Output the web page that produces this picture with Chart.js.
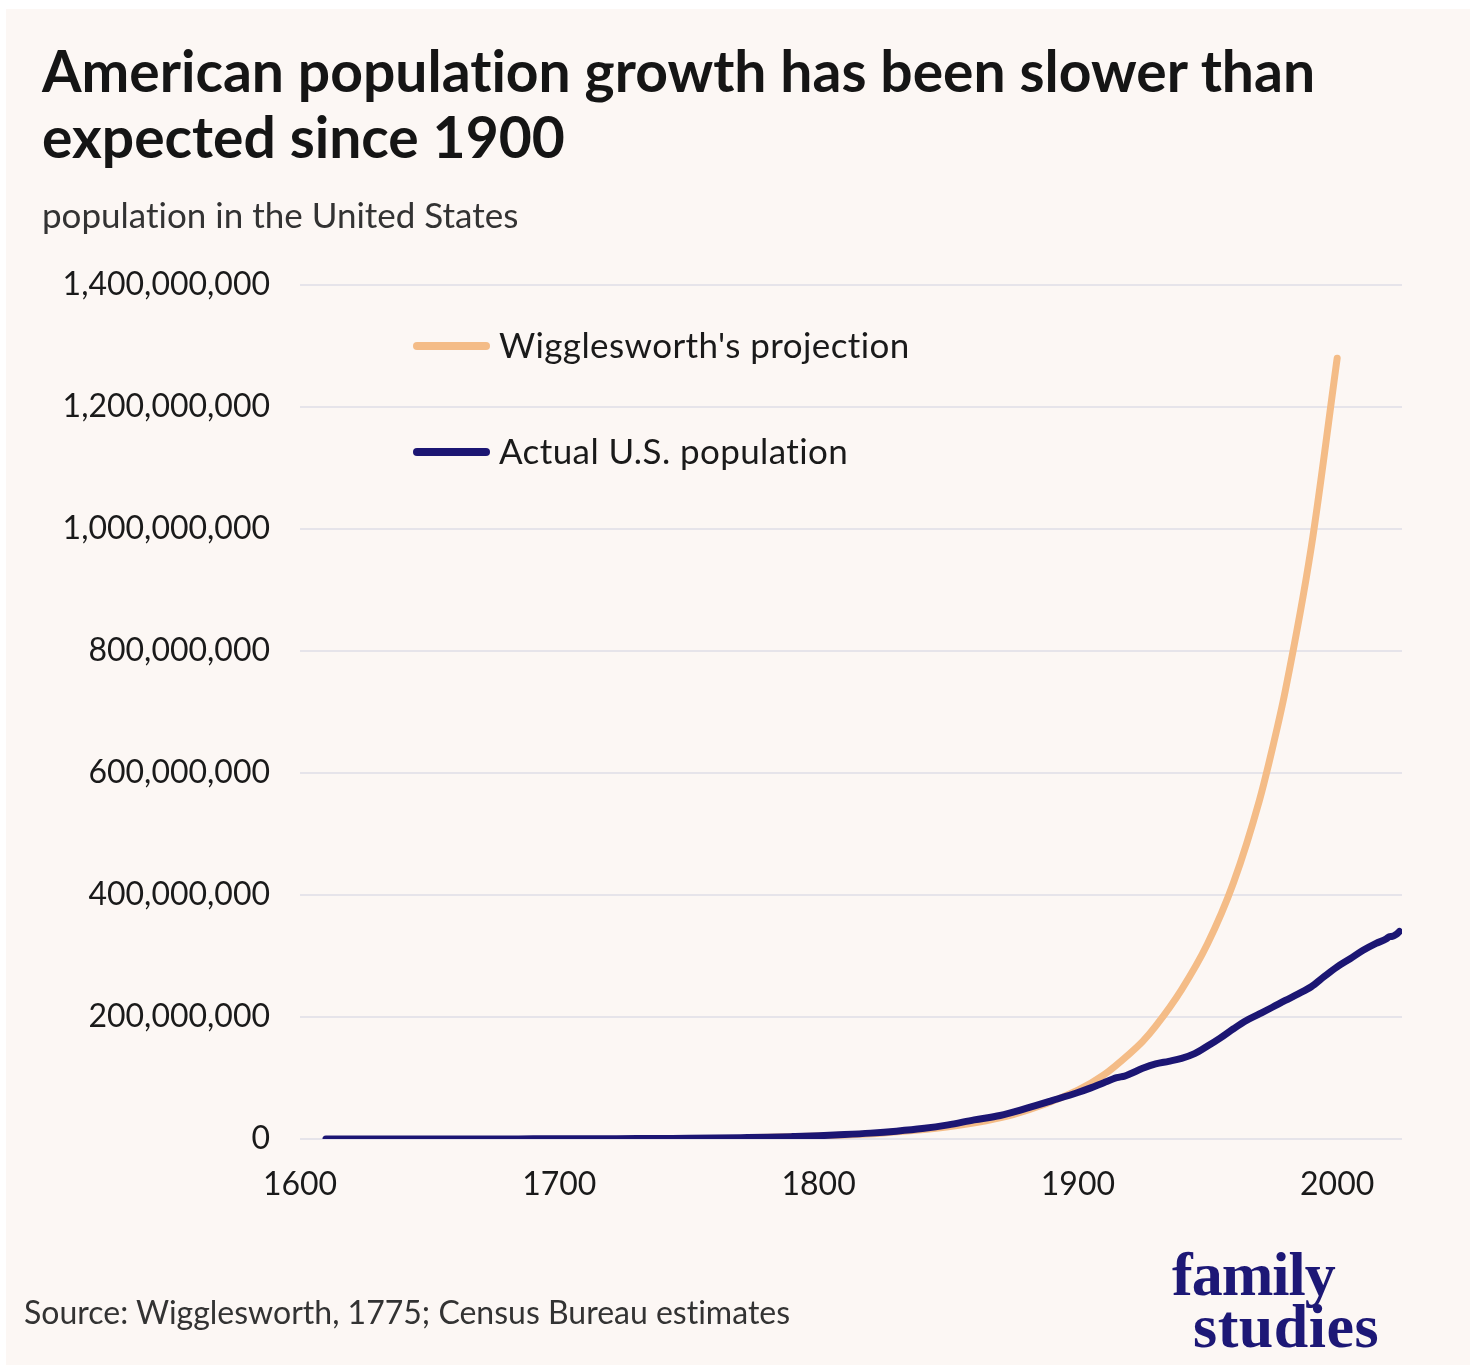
<!DOCTYPE html>
<html>
<head>
<meta charset="utf-8">
<script src="https://cdn.jsdelivr.net/npm/chart.js@4.4.1/dist/chart.umd.min.js"></script>
<style>
  html, body { margin: 0; padding: 0; background: #ffffff; }
  body { width: 1470px; height: 1368px; position: relative; overflow: hidden; font-family: Lato, sans-serif; font-variant-ligatures: none; }
  #panel { position: absolute; left: 6px; top: 9px; width: 1464px; height: 1356px; background: #fcf7f4; }
  #title { position: absolute; left: 42px; top: 37px; font-family: Lato; font-weight: 700; font-size: 57px; line-height: 66px; color: #151515; white-space: nowrap; font-variant-ligatures: none; }
  #subtitle { position: absolute; left: 42px; top: 193px; font-family: Lato; font-size: 35px; line-height: 1.2; color: #333333; white-space: nowrap; font-variant-ligatures: none; }
  #source { position: absolute; left: 24px; top: 1293px; font-family: Lato; font-size: 32px; line-height: 1.2; color: #333333; white-space: nowrap; font-variant-ligatures: none; }
  .logo { position: absolute; font-family: "Liberation Serif", serif; font-weight: 700; font-size: 62px; line-height: 1; color: #1d1876; white-space: nowrap; }
  #chartWrap { position: absolute; left: 0; top: 0; width: 1470px; height: 1368px; }
</style>
</head>
<body>
<div id="panel"></div>
<div id="chartWrap"><canvas id="c" width="1470" height="1368"></canvas></div>
<div id="title">American population growth has been slower than<br>expected since 1900</div>
<div id="subtitle">population in the United States</div>
<div id="source">Source: Wigglesworth, 1775; Census Bureau estimates</div>
<div class="logo" style="left:1172px; top:1243px; letter-spacing:-1px;">family</div>
<div class="logo" style="left:1193px; top:1295px; letter-spacing:0.5px;">studies</div>
<script>
// ---- data (population in millions) ----
const actualYears = [1610,1620,1630,1640,1650,1660,1670,1680,1690,1700,1710,1720,1730,1740,1750,1760,1770,1780,1790,1800,1810,1820,1830,1840,1850,1860,1870,1880,1890,1900,1905,1910,1915,1918,1920,1925,1930,1935,1940,1945,1950,1955,1960,1965,1970,1975,1980,1985,1990,1995,2000,2005,2010,2015,2019,2020,2021,2022,2023,2024];
const actualPop = [0.00035,0.0023,0.0046,0.0266,0.0504,0.0751,0.1119,0.1515,0.2104,0.2509,0.3317,0.4662,0.6294,0.9056,1.1708,1.5936,2.1481,2.7804,3.9292,5.3085,7.2399,9.6385,12.866,17.069,23.192,31.443,38.558,50.189,62.980,76.212,83.8,92.4,100.5,103.2,106.5,115.8,123.1,127.3,132.1,139.9,152.3,165.9,180.7,194.3,205.1,216.0,227.2,237.9,249.6,266.3,282.2,295.5,309.3,320.7,328.2,331.5,332.0,333.3,335.9,340.1];

const projYears = [1775,1800,1825,1850,1875,1900,1910,1920,1925,1930,1940,1950,1960,1970,1975,1980,1990,2000];
const projPop = [2.5,5,10,20,40,80,105,140,160,185,245,320,420,555,640,735,970,1280];

const seriesLabels = ["Wigglesworth's projection", "Actual U.S. population"];
const xTickYears = [1600,1700,1800,1900,2000];
const yTickValues = [0,200000000,400000000,600000000,800000000,1000000000,1200000000,1400000000];

const ORANGE = '#f4bc87';
const NAVY = '#1c1673';

const toPoints = (xs, ys) => xs.map((x, i) => ({ x: x, y: ys[i] * 1e6 }));

const legendPlugin = {
  id: 'customLegend',
  afterDraw(chart) {
    const ctx = chart.ctx;
    const items = [
      { ds: chart.data.datasets[1], y: 346 },
      { ds: chart.data.datasets[0], y: 452 }
    ];
    ctx.save();
    items.forEach(it => {
      ctx.beginPath();
      ctx.strokeStyle = it.ds.borderColor;
      ctx.lineWidth = 8;
      ctx.lineCap = 'round';
      ctx.moveTo(417, it.y);
      ctx.lineTo(486, it.y);
      ctx.stroke();
      ctx.fillStyle = '#1a1a1a';
      ctx.font = '35px Lato';
      if ('letterSpacing' in ctx) ctx.letterSpacing = '0.4px';
      ctx.textBaseline = 'middle';
      ctx.textAlign = 'left';
      ctx.fillText(it.ds.label, 499, it.y + 1);
    });
    ctx.restore();
  }
};

new Chart(document.getElementById('c'), {
  type: 'line',
  data: {
    datasets: [
      {
        label: seriesLabels[1],
        data: toPoints(actualYears, actualPop),
        borderColor: NAVY,
        borderWidth: 7,
        pointRadius: 0,
        cubicInterpolationMode: 'monotone',
        borderCapStyle: 'round',
        borderJoinStyle: 'round',
        fill: false
      },
      {
        label: seriesLabels[0],
        data: toPoints(projYears, projPop),
        borderColor: ORANGE,
        borderWidth: 7,
        pointRadius: 0,
        cubicInterpolationMode: 'monotone',
        borderCapStyle: 'round',
        borderJoinStyle: 'round',
        fill: false
      }
    ]
  },
  options: {
    responsive: false,
    animation: false,
    events: [],
    layout: { padding: { top: 285, right: 68, bottom: 169, left: 0 } },
    plugins: { legend: { display: false }, tooltip: { enabled: false }, title: { display: false } },
    scales: {
      x: {
        type: 'linear',
        min: 1600,
        max: 2025,
        grid: { display: false, drawTicks: false },
        border: { display: false },
        afterBuildTicks: (scale) => { scale.ticks = xTickYears.map(v => ({ value: v })); },
        afterFit: (scale) => { scale.height = 60; },
        ticks: {
          padding: 26,
          color: '#1a1a1a',
          font: { family: 'Lato', size: 32 },
          maxRotation: 0,
          autoSkip: false,
          callback: (v) => String(v)
        }
      },
      y: {
        min: 0,
        max: 1400000000,
        grid: { color: '#e6e4ea', lineWidth: 2, drawTicks: false },
        border: { display: false },
        afterBuildTicks: (scale) => { scale.ticks = yTickValues.map(v => ({ value: v })); },
        afterFit: (scale) => { scale.width = 300; },
        ticks: {
          padding: 30,
          color: '#1a1a1a',
          font: { family: 'Lato', size: 32 },
          callback: (v) => Number(v).toLocaleString('en-US')
        }
      }
    }
  },
  plugins: [legendPlugin]
});
</script>
</body>
</html>
